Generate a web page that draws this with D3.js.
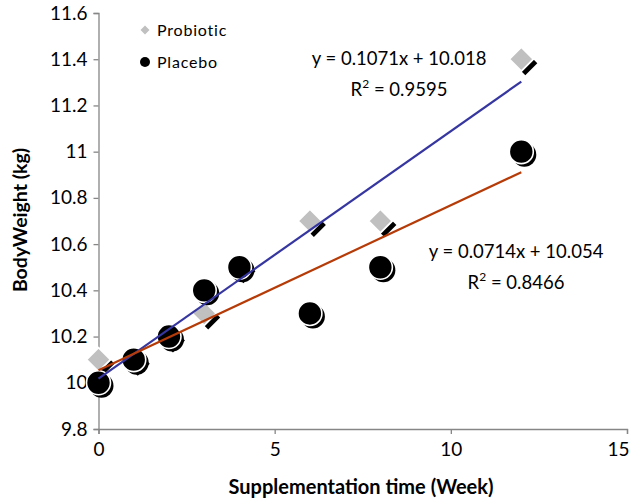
<!DOCTYPE html>
<html>
<head>
<meta charset="utf-8">
<script src="https://cdn.jsdelivr.net/npm/d3@7"></script>
<style>
  body { margin: 0; background: #fff; }
  text { font-family: Lato, "Open Sans", sans-serif; fill: #000; }
</style>
</head>
<body>
<div id="chart"></div>
<script>
// data
var weeks = [0, 1, 2, 3, 4, 6, 8, 12];
var probiotic = [10.1, 10.1, 10.2, 10.3, 10.5, 10.7, 10.7, 11.4];
var placebo = [10.0, 10.1, 10.2, 10.4, 10.5, 10.3, 10.5, 11.0];
var xTicks = [0, 5, 10, 15];
var yTicks = [9.8, 10, 10.2, 10.4, 10.6, 10.8, 11, 11.2, 11.4, 11.6];
// trendlines (from the equations printed on the chart)
var probFit = { slope: 0.1071, intercept: 10.018, eq: "y = 0.1071x + 10.018", r2: "0.9595" };
var placFit = { slope: 0.0714, intercept: 10.054, eq: "y = 0.0714x + 10.054", r2: "0.8466" };

var width = 637, height = 502;

var svg = d3.select("#chart")
    .append("svg")
    .attr("width", width)
    .attr("height", height);

var x = d3.scaleLinear().domain([0, 15]).range([98.5, 627]);
var y = d3.scaleLinear().domain([9.8, 11.6]).range([429, 13]);

var axisColor = "#868686";

// X axis
var gx = svg.append("g")
    .attr("transform", "translate(0," + y(9.8) + ")")
    .call(d3.axisBottom(x).tickValues(xTicks).tickSizeOuter(0).tickSize(5).tickPadding(6));
// Y axis
var gy = svg.append("g")
    .attr("transform", "translate(" + x(0) + ",0)")
    .call(d3.axisLeft(y).tickValues(yTicks).tickSizeOuter(0).tickSize(5).tickPadding(6)
        .tickFormat(function (d) { return d3.format("")(+d.toFixed(1)); }));

[gx, gy].forEach(function (g) {
    g.select(".domain").attr("stroke", axisColor).attr("stroke-width", 1.3);
    g.selectAll(".tick line").attr("stroke", axisColor).attr("stroke-width", 1.3);
    g.selectAll(".tick text")
        .attr("font-family", "Lato, sans-serif")
        .attr("font-size", 19)
        .attr("fill", "#000");
});
gx.selectAll(".tick text").attr("dy", "0.85em");
// last label pulled inside the page, like the original
gx.selectAll(".tick text").filter(function (d) { return d === d3.max(xTicks); })
    .attr("text-anchor", "end").attr("x", 2);

// axis titles
svg.append("text")
    .attr("x", 361)
    .attr("y", 494)
    .attr("text-anchor", "middle")
    .attr("font-size", 20)
    .attr("font-weight", "bold")
    .text("Supplementation time (Week)");

svg.append("text")
    .attr("transform", "translate(27,220) rotate(-90)")
    .attr("text-anchor", "middle")
    .attr("font-size", 19.5)
    .attr("font-weight", "bold")
    .text("BodyWeight (kg)");

var diamond = function (s) {
    return "M0," + (-s) + "L" + s + ",0L0," + s + "L" + (-s) + ",0Z";
};

// Probiotic markers: gray diamonds with a dark drop shadow
var probG = svg.append("g");
probiotic.forEach(function (v, i) {
    var g = probG.append("g")
        .attr("transform", "translate(" + x(weeks[i]) + "," + y(v) + ")");
    g.append("path").attr("d", diamond(12)).attr("transform", "translate(4,4)").attr("fill", "#000");
    g.append("path").attr("d", diamond(12)).attr("fill", "#c0c0c0")
        .attr("stroke", "#fff").attr("stroke-width", 1.8);
});

// Placebo markers: black circles with a dark drop shadow
var placG = svg.append("g");
placebo.forEach(function (v, i) {
    var g = placG.append("g")
        .attr("transform", "translate(" + x(weeks[i]) + "," + y(v) + ")");
    g.append("circle").attr("cx", 3).attr("cy", 3).attr("r", 12).attr("fill", "#000");
    g.append("circle").attr("r", 12).attr("fill", "#000")
        .attr("stroke", "#fff").attr("stroke-width", 1.6);
});

// trendlines
var fitLine = function (fit, color) {
    var x0 = d3.min(weeks), x1 = d3.max(weeks);
    svg.append("line")
        .attr("x1", x(x0)).attr("y1", y(fit.intercept + fit.slope * x0))
        .attr("x2", x(x1)).attr("y2", y(fit.intercept + fit.slope * x1))
        .attr("stroke", color)
        .attr("stroke-width", 2.2);
};
fitLine(probFit, "#3636a0");
fitLine(placFit, "#b53c08");

// equation labels
var eqLabel = function (fit, cx, by) {
    svg.append("text")
        .attr("x", cx).attr("y", by)
        .attr("text-anchor", "middle")
        .attr("font-size", 18.5)
        .text(fit.eq);
    var t = svg.append("text")
        .attr("x", cx).attr("y", by + 31)
        .attr("text-anchor", "middle")
        .attr("font-size", 18.5);
    t.append("tspan").text("R");
    t.append("tspan").attr("font-size", 12).attr("dy", -8).text("2");
    t.append("tspan").attr("dy", 8).text(" = " + fit.r2);
};
eqLabel(probFit, 399, 65);
eqLabel(placFit, 516, 258);

// legend
var legend = svg.append("g");
legend.append("path").attr("d", diamond(4.5))
    .attr("transform", "translate(145,30)").attr("fill", "#c0c0c0");
legend.append("text").attr("x", 157).attr("y", 36)
    .attr("font-size", 16).attr("letter-spacing", 0.8).text("Probiotic");
legend.append("circle").attr("cx", 145).attr("cy", 62).attr("r", 5).attr("fill", "#000");
legend.append("text").attr("x", 157).attr("y", 68)
    .attr("font-size", 16).attr("letter-spacing", 0.8).text("Placebo");
</script>
</body>
</html>
